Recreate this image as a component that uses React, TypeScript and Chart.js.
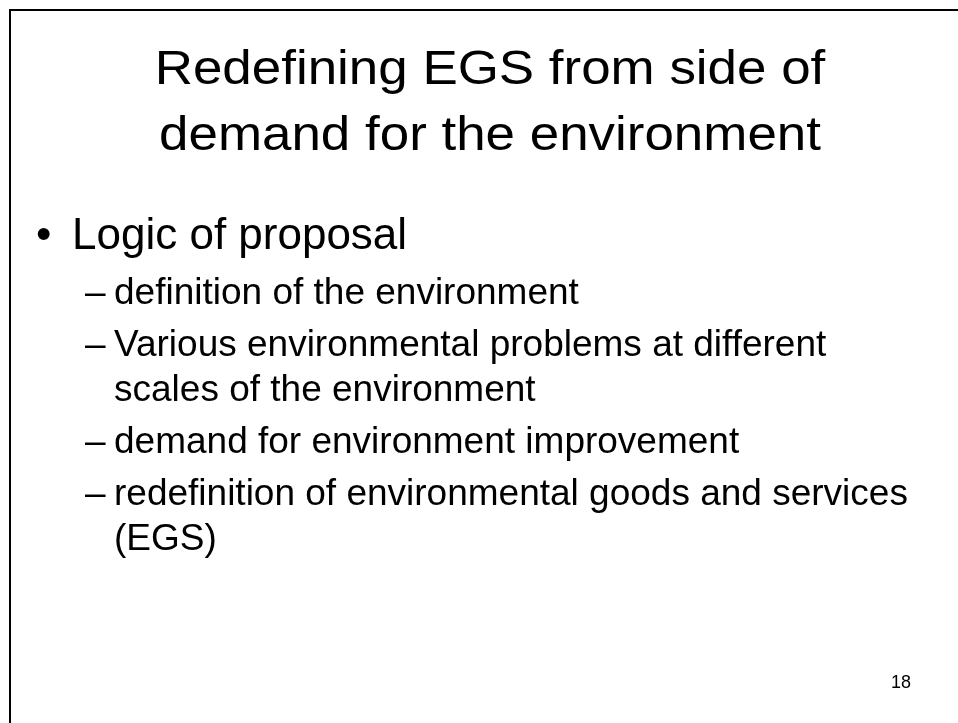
import React, { useEffect, useRef } from "react";
import { Chart, registerables } from "chart.js";

Chart.register(...registerables);

const titleLines: string[] = ["Redefining EGS from side of", "demand for the environment"];
const mainBullets: string[] = ["Logic of proposal"];
// each sub-bullet is a list of wrapped lines
const subBullets: string[][] = [
  ["definition of the environment"],
  ["Various environmental problems at different", "scales of the environment"],
  ["demand for environment improvement"],
  ["redefinition of environmental goods and services", "(EGS)"],
];
const pageNumber: string = "18";

const FONT = '"Liberation Sans", Arial, Helvetica, sans-serif';

const slidePlugin = {
  id: "slideText",
  afterDraw(chart: any) {
    const ctx: CanvasRenderingContext2D = chart.ctx;
    ctx.save();
    // frame
    ctx.fillStyle = "#000";
    ctx.fillRect(9, 9, 2, 714);
    ctx.fillRect(9, 9, 949, 2);

    ctx.fillStyle = "#000";
    ctx.textBaseline = "alphabetic";

    // title
    ctx.font = `49px ${FONT}`;
    ctx.textAlign = "center";
    titleLines.forEach((t, i) => {
      ctx.save();
      ctx.translate(490, 84 + i * 66);
      ctx.scale(1.08, 1);
      ctx.fillText(t, 0, 0);
      ctx.restore();
    });

    // main bullet
    ctx.textAlign = "left";
    ctx.font = `44px ${FONT}`;
    let y = 249;
    mainBullets.forEach((t) => {
      ctx.fillText("\u2022", 36, y);
      ctx.fillText(t, 72, y);
      y += 55;
    });

    // sub bullets
    ctx.font = `37px ${FONT}`;
    subBullets.forEach((lines) => {
      ctx.fillText("\u2013", 85, y);
      lines.forEach((l, j) => {
        ctx.fillText(l, 114, y);
        if (j < lines.length - 1) y += 45;
      });
      y += 52;
    });

    // page number
    ctx.font = `18px ${FONT}`;
    ctx.textAlign = "right";
    ctx.fillText(pageNumber, 911, 688);
    ctx.restore();
  },
};

export default function App() {
  const ref = useRef<HTMLCanvasElement>(null);
  useEffect(() => {
    if (!ref.current) return;
    const chart = new Chart(ref.current, {
      type: "line",
      data: { labels: [], datasets: [] },
      options: {
        responsive: false,
        animation: false,
        events: [],
        scales: { x: { display: false }, y: { display: false } },
        plugins: { legend: { display: false }, tooltip: { enabled: false }, title: { display: false } },
      },
      plugins: [slidePlugin],
    });
    return () => chart.destroy();
  }, []);
  return (
    <div style={{ position: "fixed", left: 0, top: 0, width: 958, height: 723, background: "#fff" }}>
      <canvas ref={ref} width={958} height={723} style={{ display: "block" }} />
    </div>
  );
}
